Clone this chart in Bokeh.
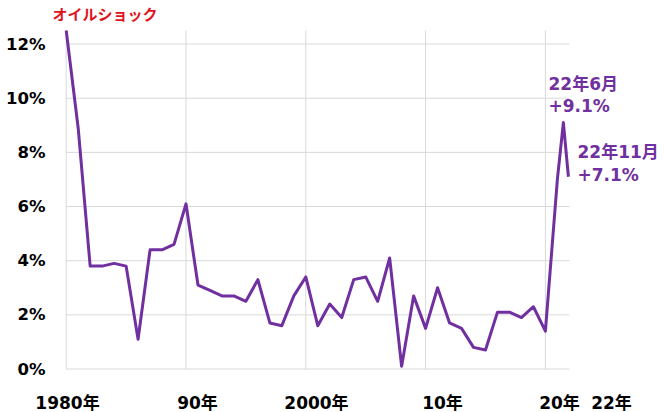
from bokeh.plotting import figure
from bokeh.models import Range1d, ColumnDataSource
from bokeh.core.properties import value
from bokeh.embed import file_html
from bokeh.resources import INLINE

# --- data (US CPI, YoY %, December values; 2022 monthly points) ---
years = list(range(1980, 2022))
cpi = [12.5, 8.9, 3.8, 3.8, 3.9, 3.8, 1.1, 4.4, 4.4, 4.6,
       6.1, 3.1, 2.9, 2.7, 2.7, 2.5, 3.3, 1.7, 1.6, 2.7,
       3.4, 1.6, 2.4, 1.9, 3.3, 3.4, 2.5, 4.1, 0.1, 2.7,
       1.5, 3.0, 1.7, 1.5, 0.8, 0.7, 2.1, 2.1, 1.9, 2.3,
       1.4, 7.0]
recent_x = [2021.5, 2021.92]          # 2022 June, 2022 November
recent_y = [9.1, 7.1]

y_ticks = [0, 2, 4, 6, 8, 10, 12]
y_tick_labels = ["0%", "2%", "4%", "6%", "8%", "10%", "12%"]
grid_years = [1980, 1990, 2000, 2010, 2020]
x_labels = ["1980年", "90年", "2000年", "10年", "20年", "22年"]
x_label_pos = [1980.11, 1990.96, 2000.89, 2011.41, 2021.18, 2025.52]

ann_text = ["22年6月", "+9.1%", "22年11月", "+7.1%"]
ann_x = [2020.26, 2020.26, 2022.68, 2022.68]
ann_y = [10.52, 9.71, 8.01, 7.16]

xs = years + recent_x
ys = cpi + recent_y

PURPLE = "#7030A0"
RED = "#E0121E"
GRID = "#D9D9D9"
FONT = "DejaVu Sans, Noto Sans CJK JP"

X0, X1 = 1980, 2022      # plotting area in data units
Y0, Y1 = 0, 12.5

p = figure(width=665, height=412, output_backend="svg", toolbar_location=None,
           x_range=Range1d(1974.516, 2030.025), y_range=Range1d(-1.606, 13.608),
           min_border=0)
p.outline_line_color = None
p.background_fill_color = "white"
p.border_fill_color = "white"
p.xaxis.visible = False
p.yaxis.visible = False
p.xgrid.grid_line_color = None
p.ygrid.grid_line_color = None

# grid lines limited to the plotting area
p.segment(x0=[X0] * len(y_ticks), x1=[X1] * len(y_ticks), y0=y_ticks, y1=y_ticks,
          line_color=GRID, line_width=1)
p.segment(x0=grid_years, x1=grid_years, y0=[Y0] * len(grid_years), y1=[Y1] * len(grid_years),
          line_color=GRID, line_width=1)

src = ColumnDataSource(dict(x=xs, y=ys))
p.line("x", "y", source=src, line_color=PURPLE, line_width=3, line_join="round")

# y tick labels
p.text(x=[1978.27] * len(y_ticks), y=y_ticks, text=y_tick_labels,
       text_align="right", text_baseline="middle",
       text_font=value(FONT), text_font_style="bold", text_font_size="16.5px",
       text_color="black")

# x labels
p.text(x=x_label_pos, y=[-1.237] * len(x_labels), text=x_labels,
       text_align="center", text_baseline="middle",
       text_font=value(FONT), text_font_style="bold", text_font_size="17px",
       text_color="black")

# annotations
p.text(x=[1978.86], y=[13.07], text=["オイルショック"], text_align="left",
       text_baseline="middle", text_font=value(FONT), text_font_style="bold",
       text_font_size="15px", text_color=RED)
p.text(x=ann_x, y=ann_y, text=ann_text, text_align="left", text_baseline="middle",
       text_font=value(FONT), text_font_style="bold", text_font_size="17px",
       text_color=PURPLE)

open("out.html", "w").write(file_html(p, INLINE))
